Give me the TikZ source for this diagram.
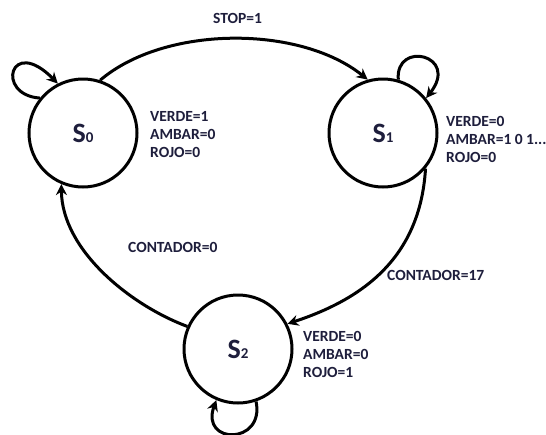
\documentclass[tikz,border=0pt]{standalone}
\usepackage{fontspec}
\setmainfont{Carlito}
\usetikzlibrary{arrows.meta}
\definecolor{txt}{RGB}{30,30,60}
\tikzset{
  state/.style={circle, draw=black, line width=3pt, minimum size=108pt, inner sep=0pt,
    font=\bfseries\fontsize{28}{28}\selectfont, text=txt},
  outs/.style={anchor=north west, inner sep=0pt, align=left, text=txt,
    font=\bfseries\fontsize{15.5}{18}\selectfont},
  lbl/.style={anchor=base west, inner sep=0pt, text=txt,
    font=\bfseries\fontsize{15.5}{18}\selectfont},
  edge/.style={line width=3pt, -{Stealth[length=11pt,width=11pt]}},
}
\newcommand{\sub}[1]{{\fontsize{15}{15}\selectfont #1}}
\begin{document}
\begin{tikzpicture}[x=1pt,y=-1pt]
\useasboundingbox (0,0) rectangle (546,434);
\fill[white] (0,0) rectangle (546,434);

% states
\node[state] (s0) at (83,133) {S\sub{0}};
\node[state] (s1) at (383,133) {S\sub{1}};
\node[state] (s2) at (238,349) {S\sub{2}};

% outputs of each state
\node[outs] (o0) at (150,111) {VERDE=1\\AMBAR=0\\ROJO=0};
\node[outs] (o1) at (446,116) {VERDE=0\\AMBAR=1 0 1...\\ROJO=0};
\node[outs] (o2) at (303,331) {VERDE=0\\AMBAR=0\\ROJO=1};

% transitions
\draw[edge] (s0.72) .. controls (165,25) and (300,25) .. (s1.106);
\draw[edge] (s1.-40) .. controls (420,260) and (360,300) .. (s2.27);
\draw[edge] (s2.156) .. controls (130,305) and (62,250) .. (s0.-113);

% self loops
\draw[edge] (s0.141) .. controls (-5,95) and (10,35) .. (s0.117);
\draw[edge] (s1.74) .. controls (395,40) and (460,55) .. (s1.39);
\draw[edge] (s2.-71) .. controls (265,445) and (200,445) .. (s2.-113);

% transition conditions
\node[lbl] (c01) at (213,23) {STOP=1};
\node[lbl] (c12) at (387,280) {CONTADOR=17};
\node[lbl] (c20) at (128,252) {CONTADOR=0};
\end{tikzpicture}
\end{document}
